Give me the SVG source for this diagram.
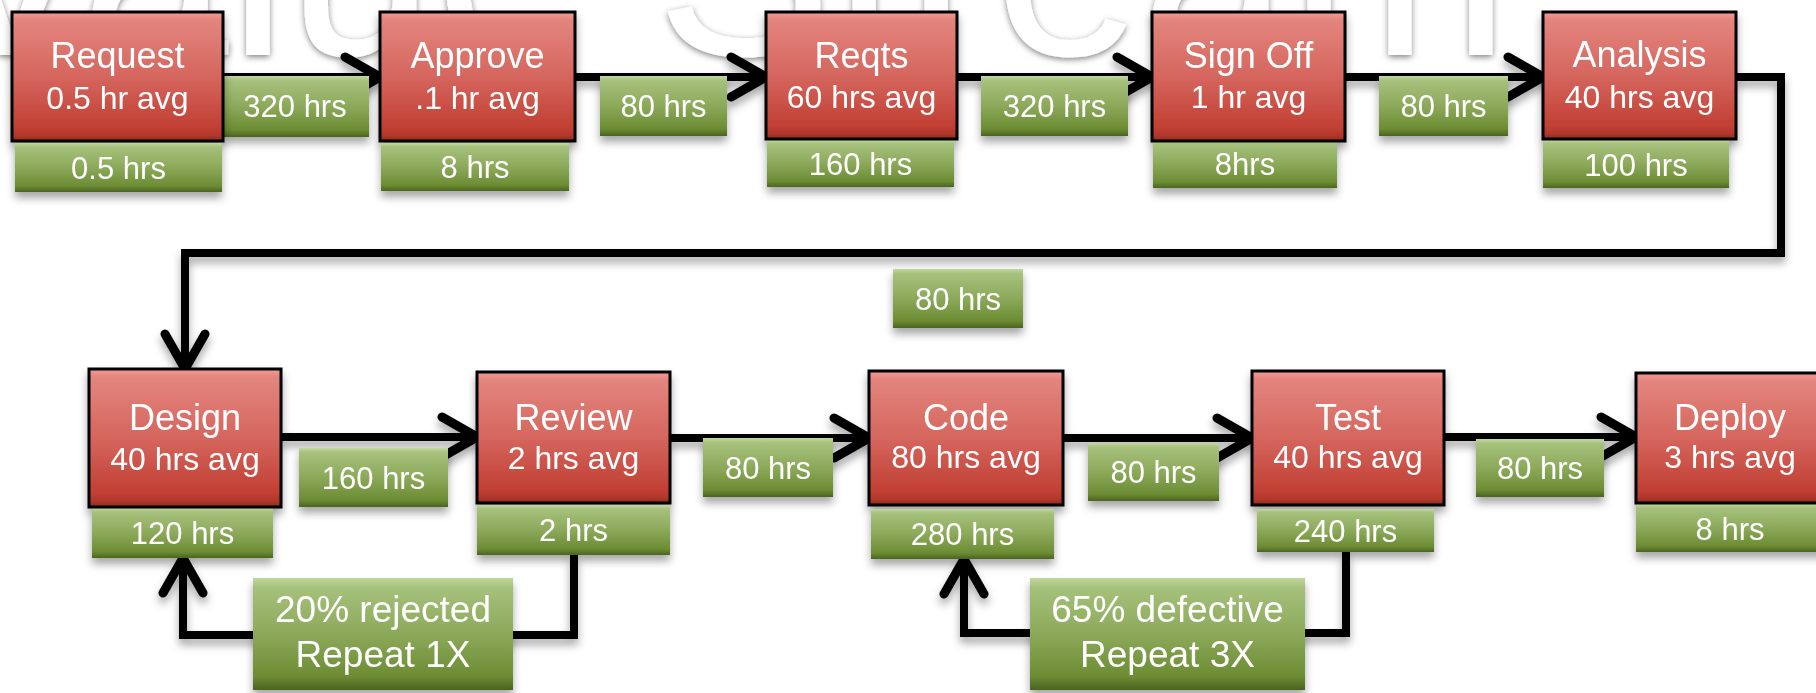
<svg xmlns="http://www.w3.org/2000/svg" width="1816" height="693" viewBox="0 0 1816 693">
<defs>
<style>
.red{fill:url(#rg);stroke:#000;stroke-width:3}
.grn{fill:url(#gg)}
.t{font-family:"Liberation Sans",Arial,Helvetica,sans-serif;fill:#fff;text-anchor:middle}
.h{font-size:36px}
.s{font-size:32px}
.g{font-size:31px}
.b{font-size:37px}
.ln{fill:none;stroke:#000;stroke-width:8;stroke-linejoin:miter}
.ar{marker-end:url(#chev)}
</style>
<linearGradient id="rg" x1="0" y1="0" x2="0" y2="1">
<stop offset="0" stop-color="#f59a94"/>
<stop offset="0.06" stop-color="#e3857e"/>
<stop offset="0.5" stop-color="#d5665e"/>
<stop offset="0.9" stop-color="#c13f33"/>
<stop offset="0.96" stop-color="#b0362a"/>
<stop offset="1" stop-color="#8a2a20"/>
</linearGradient>
<linearGradient id="gg" x1="0" y1="0" x2="0" y2="1">
<stop offset="0" stop-color="#c2d89f"/>
<stop offset="0.08" stop-color="#a6c17c"/>
<stop offset="0.5" stop-color="#8ca95a"/>
<stop offset="0.88" stop-color="#6c8c33"/>
<stop offset="1" stop-color="#4a6420"/>
</linearGradient>
<filter id="sh" x="-10%" y="-10%" width="120%" height="140%">
<feDropShadow dx="0" dy="6" stdDeviation="4" flood-color="#000" flood-opacity="0.35"/>
</filter>
<filter id="wsh" x="-5%" y="-20%" width="110%" height="140%">
<feDropShadow dx="0" dy="2" stdDeviation="3" flood-color="#000" flood-opacity="0.5"/>
</filter>
<marker id="chev" markerUnits="userSpaceOnUse" viewBox="-45 -30 50 60" refX="0" refY="0" markerWidth="50" markerHeight="60" orient="auto">
<path d="M-35,-20 L0,0 L-35,20" fill="none" stroke="#000" stroke-width="9" stroke-linecap="round" stroke-linejoin="round"/>
</marker>
</defs>
<rect width="1816" height="693" fill="#fff"/>
<text id="watermark" x="-76" y="55" font-family="Liberation Sans,Arial,sans-serif" font-size="265" fill="#fff" filter="url(#wsh)">Value Stream</text>

<g id="connectors" filter="url(#sh)">
<path class="ln ar" d="M223,77 H380"/>
<path class="ln ar" d="M575,77 H766"/>
<path class="ln ar" d="M957,77 H1152"/>
<path class="ln ar" d="M1345,77 H1543"/>
<path class="ln ar" d="M1736,77 H1781 V253 H185 V369"/>
<path class="ln ar" d="M281,437 H477"/>
<path class="ln ar" d="M670,438 H869"/>
<path class="ln ar" d="M1063,438 H1252"/>
<path class="ln ar" d="M1444,437 H1636"/>
<path class="ln ar" d="M574,555 V635 H183 V558"/>
<path class="ln ar" d="M1346,552 V633 H964 V559"/>
</g>

<g id="edge-labels" filter="url(#sh)">
<g id="lbl-1"><rect class="grn" x="221" y="76" width="148" height="61"/><text class="t g" x="295" y="117">320 hrs</text></g>
<g id="lbl-2"><rect class="grn" x="600" y="76" width="127" height="60"/><text class="t g" x="663.5" y="117">80 hrs</text></g>
<g id="lbl-3"><rect class="grn" x="981" y="76" width="147" height="60"/><text class="t g" x="1054.5" y="117">320 hrs</text></g>
<g id="lbl-4"><rect class="grn" x="1379" y="76" width="129" height="60"/><text class="t g" x="1443.5" y="117">80 hrs</text></g>
<g id="lbl-5"><rect class="grn" x="893" y="269" width="130" height="59"/><text class="t g" x="958" y="310">80 hrs</text></g>
<g id="lbl-6"><rect class="grn" x="299" y="448" width="149" height="59"/><text class="t g" x="373.5" y="489">160 hrs</text></g>
<g id="lbl-7"><rect class="grn" x="703" y="438" width="130" height="59"/><text class="t g" x="768" y="479">80 hrs</text></g>
<g id="lbl-8"><rect class="grn" x="1088" y="443" width="131" height="58"/><text class="t g" x="1153.5" y="483">80 hrs</text></g>
<g id="lbl-9"><rect class="grn" x="1476" y="439" width="128" height="58"/><text class="t g" x="1540" y="479">80 hrs</text></g>
<g id="lbl-rej"><rect class="grn" x="253" y="578" width="260" height="112"/><text class="t b" x="383" y="622">20% rejected</text><text class="t b" x="383" y="667">Repeat 1X</text></g>
<g id="lbl-def"><rect class="grn" x="1030" y="578" width="275" height="112"/><text class="t b" x="1167.5" y="622">65% defective</text><text class="t b" x="1167.5" y="667">Repeat 3X</text></g>
</g>

<g id="n-request" filter="url(#sh)">
<rect class="grn" x="15" y="143" width="207" height="49"/><text class="t g" x="118.5" y="179">0.5 hrs</text>
<rect class="red" x="12" y="12" width="211" height="129"/>
<text class="t h" x="117.5" y="68">Request</text><text class="t s" x="117.5" y="109">0.5 hr avg</text>
</g>
<g id="n-approve" filter="url(#sh)">
<rect class="grn" x="381" y="143" width="188" height="48"/><text class="t g" x="475" y="178">8 hrs</text>
<rect class="red" x="380" y="12" width="195" height="129"/>
<text class="t h" x="477.5" y="68">Approve</text><text class="t s" x="477.5" y="109">.1 hr avg</text>
</g>
<g id="n-reqts" filter="url(#sh)">
<rect class="grn" x="767" y="140" width="187" height="47"/><text class="t g" x="860.5" y="175">160 hrs</text>
<rect class="red" x="766" y="12" width="191" height="127"/>
<text class="t h" x="861.5" y="68">Reqts</text><text class="t s" x="861.5" y="108">60 hrs avg</text>
</g>
<g id="n-signoff" filter="url(#sh)">
<rect class="grn" x="1153" y="140" width="184" height="48"/><text class="t g" x="1245" y="175">8hrs</text>
<rect class="red" x="1152" y="12" width="193" height="129"/>
<text class="t h" x="1248.5" y="68">Sign Off</text><text class="t s" x="1248.5" y="108">1 hr avg</text>
</g>
<g id="n-analysis" filter="url(#sh)">
<rect class="grn" x="1543" y="140" width="186" height="48"/><text class="t g" x="1636" y="176">100 hrs</text>
<rect class="red" x="1543" y="12" width="193" height="127"/>
<text class="t h" x="1639.5" y="67">Analysis</text><text class="t s" x="1639.5" y="108">40 hrs avg</text>
</g>

<g id="n-design" filter="url(#sh)">
<rect class="grn" x="92" y="508" width="181" height="50"/><text class="t g" x="182.5" y="544">120 hrs</text>
<rect class="red" x="89" y="369" width="192" height="138"/>
<text class="t h" x="185" y="430">Design</text><text class="t s" x="185" y="470">40 hrs avg</text>
</g>
<g id="n-review" filter="url(#sh)">
<rect class="grn" x="477" y="505" width="193" height="50"/><text class="t g" x="573.5" y="541">2 hrs</text>
<rect class="red" x="477" y="372" width="193" height="131"/>
<text class="t h" x="573.5" y="430">Review</text><text class="t s" x="573.5" y="469">2 hrs avg</text>
</g>
<g id="n-code" filter="url(#sh)">
<rect class="grn" x="871" y="509" width="183" height="50"/><text class="t g" x="962.5" y="545">280 hrs</text>
<rect class="red" x="869" y="371" width="194" height="134"/>
<text class="t h" x="966" y="430">Code</text><text class="t s" x="966" y="468">80 hrs avg</text>
</g>
<g id="n-test" filter="url(#sh)">
<rect class="grn" x="1257" y="509" width="177" height="43"/><text class="t g" x="1345.5" y="542">240 hrs</text>
<rect class="red" x="1252" y="371" width="192" height="134"/>
<text class="t h" x="1348" y="430">Test</text><text class="t s" x="1348" y="468">40 hrs avg</text>
</g>
<g id="n-deploy" filter="url(#sh)">
<rect class="grn" x="1636" y="504" width="194" height="48"/><text class="t g" x="1730" y="540">8 hrs</text>
<rect class="red" x="1636" y="373" width="190" height="130"/>
<text class="t h" x="1730" y="430">Deploy</text><text class="t s" x="1730" y="468">3 hrs avg</text>
</g>
</svg>
